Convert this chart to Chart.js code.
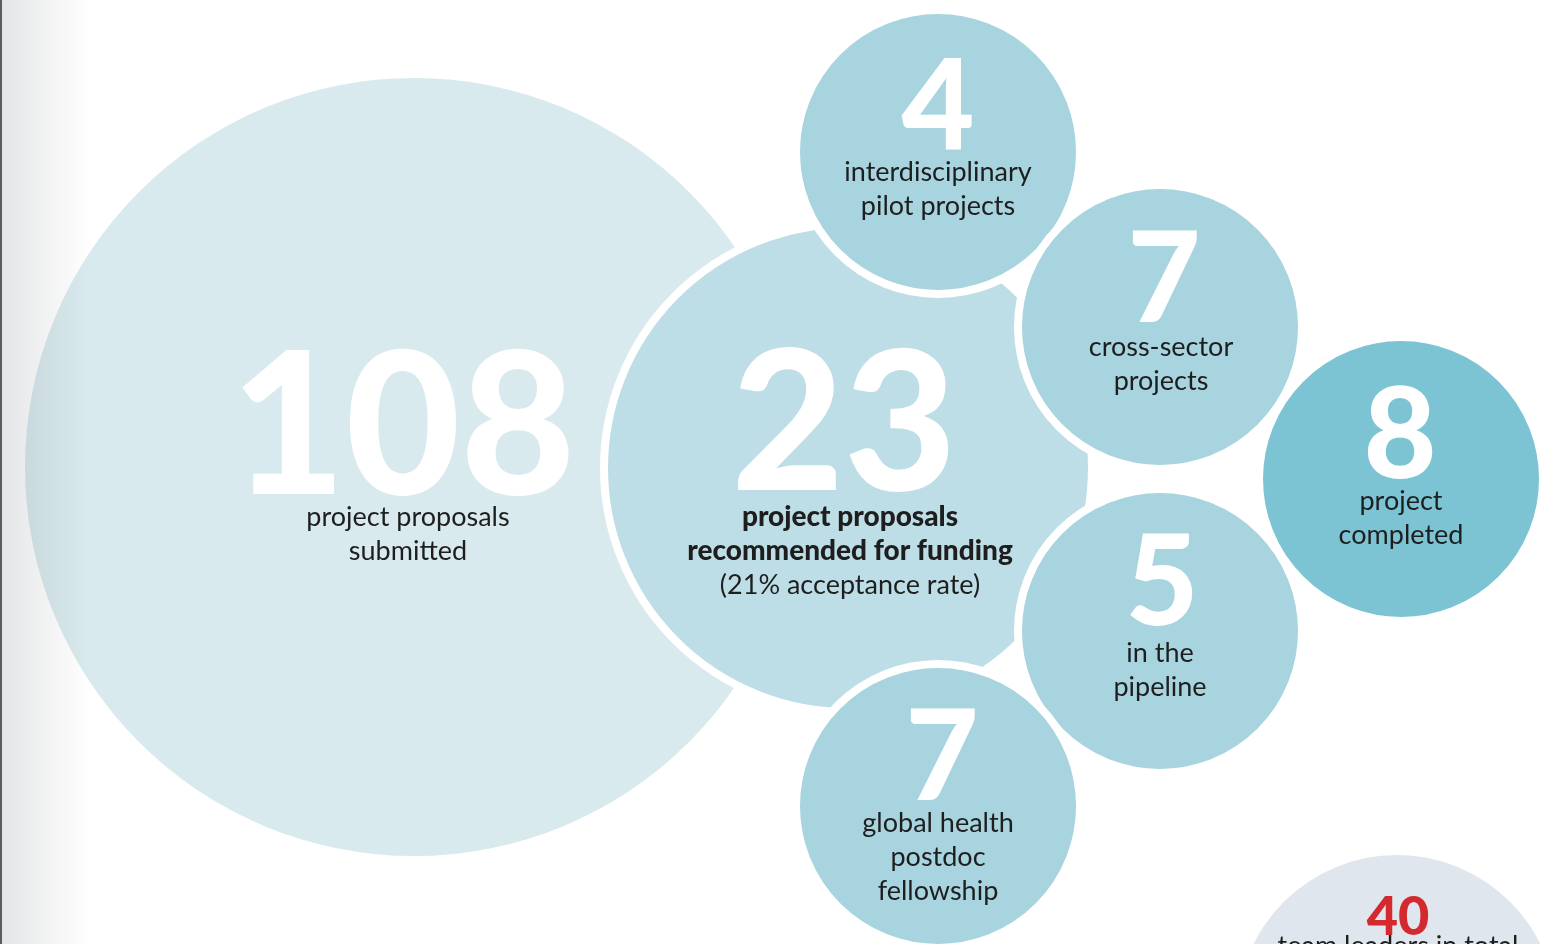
<!DOCTYPE html>
<html lang="en">
<head>
  <meta charset="UTF-8" />
  <title>Project proposals</title>
  <style>
    html, body { margin: 0; padding: 0; background: #ffffff; overflow: hidden; }
    #bubbles { display: block; }
  </style>
</head>
<body>
<canvas id="bubbles" width="1544" height="944"></canvas>

<script src="https://cdn.jsdelivr.net/npm/chart.js"></script>
<script>
  // Valores
  const values = [108, 23, 4, 7, 8, 5, 7, 40];
  const captions = [
    ['project proposals', 'submitted'],
    ['project proposals', 'recommended for funding', '(21% acceptance rate)'],
    ['interdisciplinary', 'pilot projects'],
    ['cross-sector', 'projects'],
    ['project', 'completed'],
    ['in the', 'pipeline'],
    ['global health', 'postdoc', 'fellowship'],
    ['team leaders in total']
  ];
  const boldLines = [0, 2, 0, 0, 0, 0, 0, 0];   // quantas linhas em negrito

  // Layout (posição e tamanho de cada bolha, em pixels)
  const centerX = [414, 848, 938, 1160, 1401, 1160, 938, 1397];
  const centerY = [467, 468, 152, 327, 479, 631, 806, 1015];
  const radius  = [389, 244, 142, 142, 142, 142, 142, 160];
  const border  = [0, 8, 8, 8, 8, 8, 8, 0];
  const fills   = ['#d9eaee', '#bddee6', '#a7d4df', '#a7d4df', '#7cc4d3', '#a7d4df', '#a7d4df', '#dfe6ee'];
  const numSize = [198, 194, 126, 126, 126, 126, 126, 54];
  const numColor = ['#fff', '#fff', '#fff', '#fff', '#fff', '#fff', '#fff', '#d42a2f'];
  const numDx   = [-11, -4, 0, 4, -1, 2, 4, 1];
  const numDy   = [27, 22, -2, -5, -1, -6, -6, -80];
  const capDy   = [59, 58, 29, 29, 31, 31, 26, -60];
  const capDx   = [-6, 2, 0, 1, 0, 0, 0, 1];
  const capSize = [27, 27, 27, 27, 27, 27, 27, 27];

  const textPlugin = {
    id: 'bubbleText',
    afterDatasetsDraw(chart) {
      const ctx = chart.ctx;
      const pts = chart.getDatasetMeta(0).data;
      ctx.save();
      ctx.textAlign = 'center';
      ctx.textBaseline = 'alphabetic';
      pts.forEach((p, i) => {
        ctx.fillStyle = numColor[i];
        ctx.font = '900 ' + numSize[i] + 'px Lato, "Open Sans", sans-serif';
        ctx.fillText(String(values[i]), p.x + numDx[i], p.y + numDy[i]);

        ctx.fillStyle = '#1e1e1e';
        captions[i].forEach((line, k) => {
          const bold = k < boldLines[i];
          ctx.font = (bold ? '900 ' + (capSize[i] + 1) : '400 ' + capSize[i]) + 'px Lato, "Open Sans", sans-serif';
          ctx.fillText(line, p.x + capDx[i], p.y + capDy[i] + k * 34);
        });
      });
      ctx.restore();
    },
    afterDraw(chart) {
      // faixa cinza à esquerda
      const ctx = chart.ctx;
      ctx.save();
      const g = ctx.createLinearGradient(0, 0, 90, 0);
      g.addColorStop(0, 'rgba(40,50,60,0.13)');
      g.addColorStop(1, 'rgba(40,50,60,0)');
      ctx.fillStyle = g;
      ctx.fillRect(0, 0, 90, chart.height);
      ctx.fillStyle = '#5c5c5c';
      ctx.fillRect(0, 0, 2, chart.height);
      ctx.restore();
    }
  };

  new Chart(document.getElementById('bubbles'), {
    type: 'bubble',
    data: {
      datasets: [{
        data: values.map((v, i) => ({ x: centerX[i], y: centerY[i], r: radius[i] })),
        backgroundColor: fills,
        borderColor: '#ffffff',
        borderWidth: border,
        clip: false
      }]
    },
    options: {
      responsive: false,
      animation: false,
      events: [],
      layout: { padding: 0, autoPadding: false },
      plugins: {
        legend: { display: false },
        tooltip: { enabled: false }
      },
      scales: {
        x: { type: 'linear', min: 0, max: 1544, display: false },
        y: { type: 'linear', min: 0, max: 944, reverse: true, display: false }
      }
    },
    plugins: [textPlugin]
  });
</script>
</body>
</html>
